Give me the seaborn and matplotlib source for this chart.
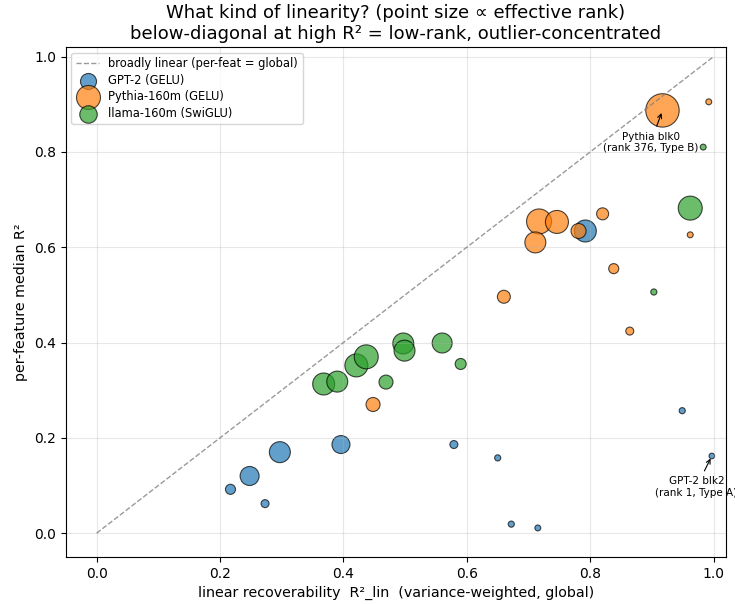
import matplotlib
matplotlib.use("Agg")
import matplotlib.pyplot as plt
import seaborn as sns
import numpy as np

# per-model blocks: global linear R2, per-feature median R2, effective rank
gpt2_x = [0.217, 0.248, 0.273, 0.297, 0.396, 0.579, 0.650, 0.672, 0.715, 0.792, 0.949, 0.997]
gpt2_y = [0.092, 0.120, 0.062, 0.170, 0.186, 0.186, 0.158, 0.019, 0.011, 0.634, 0.257, 0.162]
gpt2_rank = [25, 115, 12, 142, 102, 12, 3, 3, 2, 157, 3, 1]

pythia_x = [0.917, 0.992, 0.962, 0.820, 0.781, 0.717, 0.746, 0.711, 0.838, 0.660, 0.864, 0.448]
pythia_y = [0.887, 0.905, 0.626, 0.670, 0.634, 0.654, 0.653, 0.610, 0.555, 0.496, 0.424, 0.270]
pythia_rank = [376, 2, 2, 40, 68, 206, 173, 142, 25, 48, 12, 58]

llama_x = [0.962, 0.983, 0.903, 0.368, 0.390, 0.421, 0.437, 0.469, 0.497, 0.499, 0.560, 0.590]
llama_y = [0.682, 0.810, 0.506, 0.313, 0.318, 0.352, 0.370, 0.317, 0.398, 0.383, 0.399, 0.355]
llama_rank = [189, 2, 3, 157, 142, 173, 189, 58, 142, 142, 128, 32]

models = [
    ("GPT-2 (GELU)", gpt2_x, gpt2_y, gpt2_rank),
    ("Pythia-160m (GELU)", pythia_x, pythia_y, pythia_rank),
    ("llama-160m (SwiGLU)", llama_x, llama_y, llama_rank),
]
colors = sns.color_palette("tab10")

fig, ax = plt.subplots(figsize=(7.35, 6.05), dpi=100)

ax.plot([0, 1], [0, 1], ls="--", color="gray", alpha=0.8, lw=1,
        label="broadly linear (per-feat = global)")

for (name, xs, ys, ranks), c in zip(models, colors):
    sizes = 15 + 1.5 * np.array(ranks)
    sns.scatterplot(x=xs, y=ys, s=sizes, color=c, alpha=0.7,
                    edgecolor="black", linewidth=0.8, label=name, ax=ax)

ax.annotate("Pythia blk0\n(rank 376, Type B)", xy=(pythia_x[0], pythia_y[0]),
            xytext=(0.898, 0.82), ha="center", va="center", fontsize=7.5,
            arrowprops=dict(arrowstyle="->", color="black", lw=0.8))
ax.annotate("GPT-2 blk2\n(rank 1, Type A)", xy=(gpt2_x[-1], gpt2_y[-1]),
            xytext=(0.972, 0.097), ha="center", va="center", fontsize=7.5,
            arrowprops=dict(arrowstyle="->", color="black", lw=0.8))

ax.set_xlim(-0.05, 1.02)
ax.set_ylim(-0.05, 1.02)
ax.grid(alpha=0.3)
ax.set_xlabel("linear recoverability  R²_lin  (variance-weighted, global)", fontsize=10.3)
ax.set_ylabel("per-feature median R²", fontsize=10.3)
ax.set_title("What kind of linearity? (point size ∝ effective rank)\n"
             "below-diagonal at high R² = low-rank, outlier-concentrated", fontsize=13)
ax.legend(loc="upper left", fontsize=8.3, labelspacing=0.3)

plt.subplots_adjust(left=0.0894, right=0.9878, top=0.9223, bottom=0.0793)
plt.savefig("out.png", dpi=100)
